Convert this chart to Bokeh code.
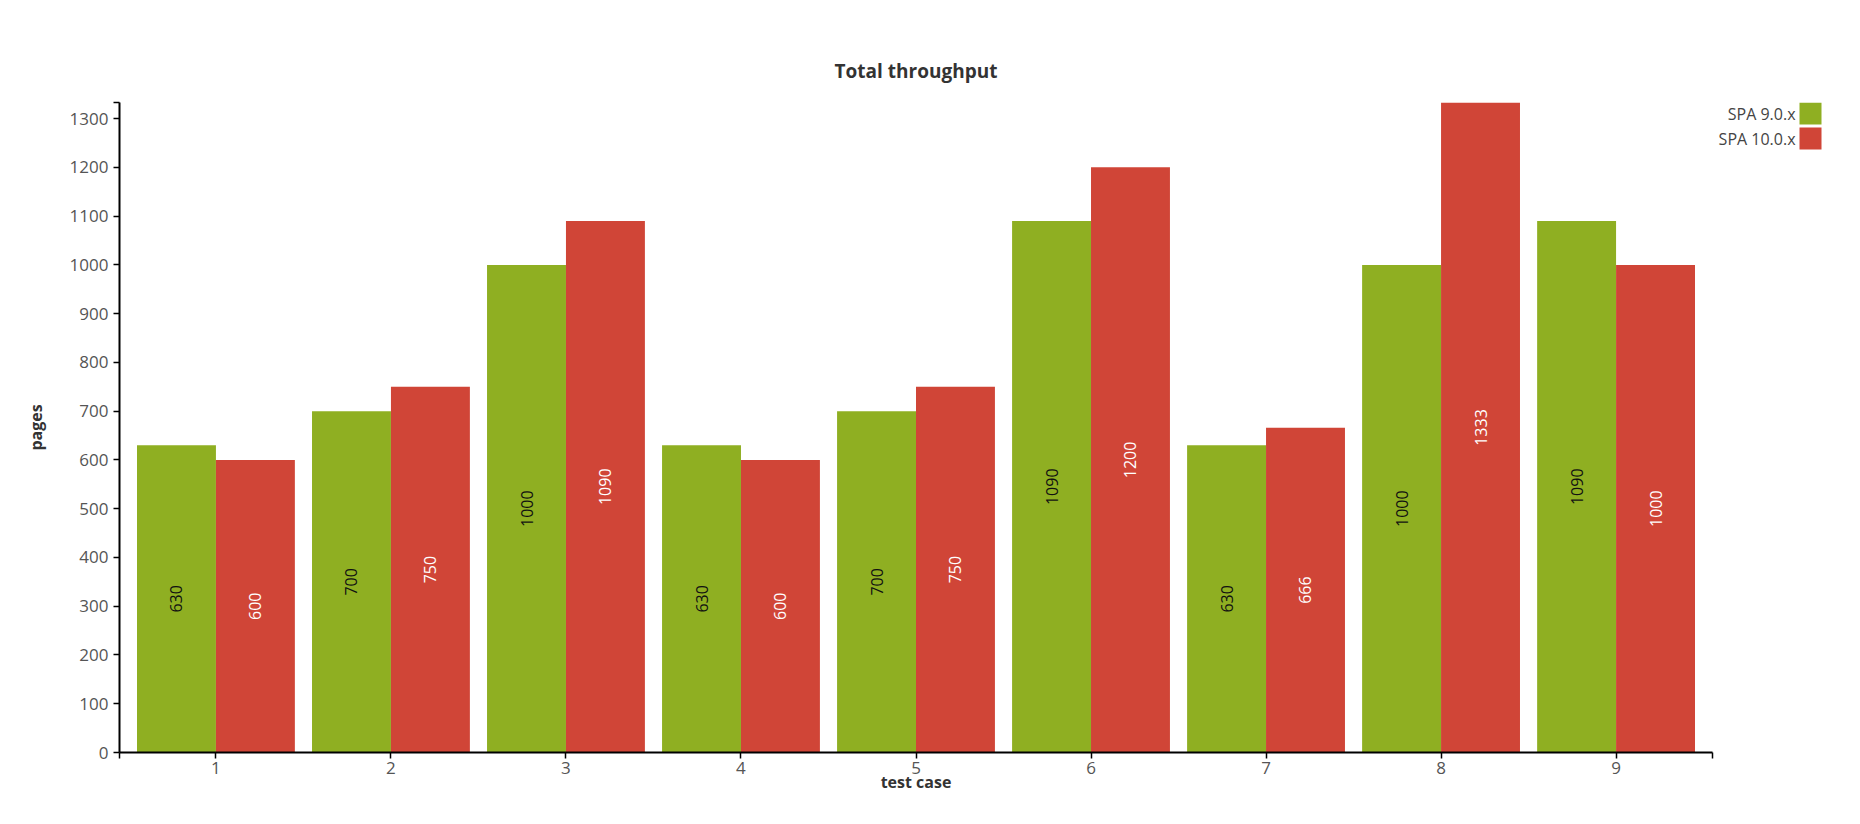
from math import pi
from bokeh.plotting import figure
from bokeh.layouts import row
from bokeh.models import ColumnDataSource, Range1d, FixedTicker
from bokeh.transform import dodge
from bokeh.core.properties import value
from bokeh.embed import file_html
from bokeh.resources import INLINE

# ---- data ----
cases = [1, 2, 3, 4, 5, 6, 7, 8, 9]
spa9 = [630, 700, 1000, 630, 700, 1090, 630, 1000, 1090]
spa10 = [600, 750, 1090, 600, 750, 1200, 666, 1333, 1000]
series_names = ["SPA 9.0.x", "SPA 10.0.x"]
y_ticks = [0, 100, 200, 300, 400, 500, 600, 700, 800, 900, 1000, 1100, 1200, 1300]
y_max = 1333

FONT = "Open Sans"
GREEN = "#8FAF22"
RED = "#D04537"
series_colors = [GREEN, RED]
BAR_W = 0.451
OFF = BAR_W / 2

src = ColumnDataSource(dict(
    case=cases,
    spa9=spa9,
    spa10=spa10,
    mid9=[v / 2 for v in spa9],
    mid10=[v / 2 for v in spa10],
    lab9=[str(v) for v in spa9],
    lab10=[str(v) for v in spa10],
))

x_lo, x_hi = 0.449, 9.551

MAIN_W, H = 1716, 808
B_TOP, B_BOTTOM = 102, 56
p = figure(width=MAIN_W, height=H, output_backend="svg", toolbar_location=None,
           x_range=Range1d(x_lo, x_hi), y_range=Range1d(0, y_max),
           min_border_left=119, min_border_right=4, min_border_top=B_TOP,
           min_border_bottom=B_BOTTOM, title="Total throughput")

p.title.align = "center"
p.title.text_font = FONT
p.title.text_font_size = "19px"
p.title.text_font_style = "bold"
p.title.text_color = "#333333"
p.title.standoff = 37

r9 = p.vbar(x=dodge("case", -OFF, range=p.x_range), top="spa9", bottom=0, width=BAR_W,
            source=src, fill_color=GREEN, line_color=None)
r10 = p.vbar(x=dodge("case", OFF, range=p.x_range), top="spa10", bottom=0, width=BAR_W,
             source=src, fill_color=RED, line_color=None)

p.text(x=dodge("case", -OFF, range=p.x_range), y="mid9", text="lab9", source=src,
       angle=pi / 2, text_align="center", text_baseline="middle",
       text_font=value(FONT), text_font_size="16px", text_color="#111111")
p.text(x=dodge("case", OFF, range=p.x_range), y="mid10", text="lab10", source=src,
       angle=pi / 2, text_align="center", text_baseline="middle",
       text_font=value(FONT), text_font_size="16px", text_color="#ffffff")

p.xgrid.visible = False
p.ygrid.visible = False
p.outline_line_color = None

p.xaxis.ticker = FixedTicker(ticks=cases, minor_ticks=[x_lo, x_hi])
p.yaxis.ticker = FixedTicker(ticks=y_ticks, minor_ticks=[y_max])

for ax in (p.xaxis, p.yaxis):
    ax.axis_line_color = "black"
    ax.axis_line_width = 2
    ax.major_tick_in = 0
    ax.major_tick_out = 6
    ax.major_tick_line_color = "black"
    ax.major_tick_line_width = 1.5
    ax.minor_tick_in = 0
    ax.minor_tick_out = 6
    ax.minor_tick_line_color = "black"
    ax.minor_tick_line_width = 1.5
    ax.major_label_text_font = FONT
    ax.major_label_text_font_size = "17px"
    ax.major_label_text_color = "#555555"
    ax.axis_label_text_font = FONT
    ax.axis_label_text_font_size = "16px"
    ax.axis_label_text_font_style = "bold"
    ax.axis_label_text_color = "#333333"

p.xaxis.axis_label = "test case"
p.yaxis.axis_label = "pages"
p.xaxis.major_label_standoff = 3
p.xaxis.axis_label_standoff = -6
p.yaxis.major_label_standoff = 5
p.yaxis.axis_label_standoff = 20

# ---- legend panel (text to the left of each colour swatch) ----
LEG_W = 128
FRAME_H = H - B_TOP - B_BOTTOM
leg = figure(width=LEG_W, height=H, output_backend="svg", toolbar_location=None,
             x_range=Range1d(0, LEG_W), y_range=Range1d(FRAME_H, 0),
             min_border_left=0, min_border_right=0,
             min_border_top=B_TOP, min_border_bottom=B_BOTTOM)
leg.axis.visible = False
leg.xgrid.visible = False
leg.ygrid.visible = False
leg.outline_line_color = None

SW = 22          # swatch size (px)
ROW = 25         # row pitch (px)
SW_X = 83        # swatch left edge inside legend panel (px)
rows_y = [SW / 2 + ROW * i for i in range(len(series_names))]
leg_src = ColumnDataSource(dict(y=rows_y, name=series_names, color=series_colors))
leg.rect(x=SW_X + SW / 2, y="y", width=SW, height=SW, source=leg_src,
         fill_color="color", line_color=None)
leg.text(x=SW_X - 4, y="y", text="name", source=leg_src,
         text_align="right", text_baseline="middle",
         text_font=value(FONT), text_font_size="16px", text_color="#444444")

layout = row(p, leg, spacing=0)
open("out.html", "w").write(file_html(layout, INLINE))
